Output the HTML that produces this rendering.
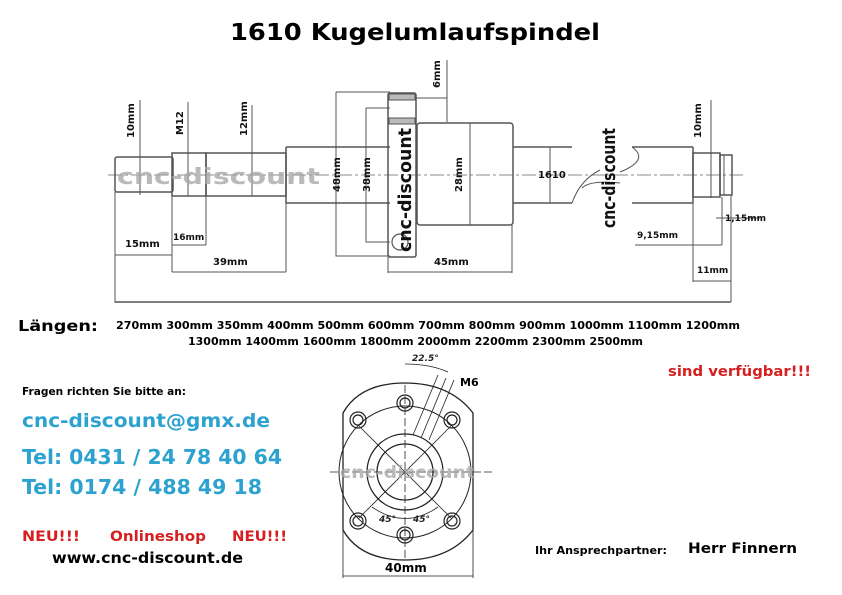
<!DOCTYPE html>
<html><head><meta charset="utf-8"><style>
html,body{margin:0;padding:0;background:#fff}
svg{display:block}
text{font-family:"DejaVu Sans","Liberation Sans",sans-serif;font-weight:bold}
</style></head><body>
<svg width="842" height="595" viewBox="0 0 842 595" xmlns="http://www.w3.org/2000/svg">
<rect width="842" height="595" fill="#fff"/>
<text x="230" y="40" font-size="23" textLength="370" lengthAdjust="spacingAndGlyphs" fill="#000">1610 Kugelumlaufspindel</text>
<g stroke="#555" fill="none" stroke-width="1">
<line x1="108" y1="175" x2="745" y2="175" stroke="#888" stroke-dasharray="14,3,3,3"/>
<rect x="115" y="157" width="58" height="35" rx="2" stroke-width="1.5"/>
<rect x="172" y="153" width="34" height="43" stroke-width="1.5"/>
<rect x="206" y="153" width="80" height="43" stroke-width="1.5"/>
<path d="M286 147 H390 M286 203 H390 M286 147 V203" stroke-width="1.5"/>
<rect x="388" y="93" width="28" height="164" rx="2" stroke-width="1.5"/>
<rect x="389" y="94" width="26" height="6" fill="#bbb"/>
<rect x="389" y="118" width="26" height="6" fill="#bbb"/>
<circle cx="400" cy="242" r="8" stroke-width="1.2"/>
<rect x="417" y="123" width="96" height="102" rx="3" stroke-width="1.5"/>
<path d="M513 147 H572 M513 203 H572 M632 147 H693 M632 203 H693 M693 147 V203" stroke-width="1.5"/>
<path d="M572 203 Q580 180 600 170 M632 147 Q650 160 620 172 M582 188 Q590 180 620 183" stroke-width="1"/>
<rect x="693" y="153" width="27" height="44" stroke-width="1.5"/>
<rect x="720" y="155" width="12" height="40" stroke-width="1.5"/>
<line x1="724" y1="155" x2="724" y2="195"/>
<line x1="140" y1="100" x2="140" y2="195"/>
<line x1="188" y1="102" x2="188" y2="196"/>
<line x1="252" y1="105" x2="252" y2="196"/>
<line x1="115" y1="192" x2="115" y2="303"/>
<line x1="172" y1="196" x2="172" y2="272"/>
<line x1="206" y1="196" x2="206" y2="245"/>
<line x1="286" y1="203" x2="286" y2="272"/>
<line x1="115" y1="255" x2="172" y2="255"/>
<line x1="172" y1="245" x2="206" y2="245"/>
<line x1="172" y1="272" x2="286" y2="272"/>
<line x1="115" y1="302" x2="731" y2="302" stroke-width="1.5"/>
<line x1="731" y1="195" x2="731" y2="302"/>
<path d="M336 92 H390 M336 92 V256 H390"/>
<path d="M366 108 H390 M366 108 V242 H390"/>
<line x1="447" y1="60" x2="447" y2="122"/>
<line x1="416" y1="98" x2="447" y2="98"/>
<line x1="470" y1="123" x2="470" y2="225"/>
<line x1="388" y1="257" x2="388" y2="273"/>
<line x1="512" y1="225" x2="512" y2="273"/>
<line x1="388" y1="272" x2="512" y2="272"/>
<line x1="550" y1="147" x2="550" y2="203"/>
<line x1="711" y1="100" x2="711" y2="198"/>
<line x1="693" y1="197" x2="693" y2="282"/>
<line x1="693" y1="281" x2="731" y2="281"/>
<line x1="635" y1="245" x2="722" y2="245"/>
<line x1="722" y1="197" x2="722" y2="245"/>
<line x1="716" y1="218" x2="760" y2="218"/>
</g>
<g font-size="10" fill="#111">
<text transform="translate(134,138) rotate(-90)">10mm</text>
<text transform="translate(183,135) rotate(-90)">M12</text>
<text transform="translate(247,136) rotate(-90)">12mm</text>
<text transform="translate(340,192) rotate(-90)">48mm</text>
<text transform="translate(370,192) rotate(-90)">38mm</text>
<text transform="translate(462,192) rotate(-90)">28mm</text>
<text transform="translate(440,88) rotate(-90)">6mm</text>
<text transform="translate(701,138) rotate(-90)">10mm</text>
<text x="125" y="247">15mm</text>
<text x="173" y="240" font-size="9">16mm</text>
<text x="213" y="265">39mm</text>
<text x="434" y="265">45mm</text>
<text x="538" y="178">1610</text>
<text x="637" y="238" font-size="9">9,15mm</text>
<text x="725" y="221" font-size="9">1,15mm</text>
<text x="697" y="273" font-size="9">11mm</text>
</g>
<text x="117" y="184" font-size="22" textLength="203" lengthAdjust="spacingAndGlyphs" fill="#aaa" opacity="0.8">cnc-discount</text>
<text transform="translate(411,252) rotate(-90)" font-size="18" textLength="124" lengthAdjust="spacingAndGlyphs" fill="#111" font-weight="normal">cnc-discount</text>
<text transform="translate(615,228) rotate(-90)" font-size="18" textLength="100" lengthAdjust="spacingAndGlyphs" fill="#111" font-weight="normal">cnc-discount</text>
<text x="18" y="331" font-size="15" textLength="80" lengthAdjust="spacingAndGlyphs">Längen:</text>
<text x="116" y="329" font-size="10.5" textLength="624" lengthAdjust="spacingAndGlyphs">270mm  300mm  350mm  400mm  500mm  600mm  700mm  800mm  900mm  1000mm  1100mm  1200mm</text>
<text x="188" y="345" font-size="10.5" textLength="455" lengthAdjust="spacingAndGlyphs">1300mm  1400mm  1600mm  1800mm  2000mm  2200mm  2300mm  2500mm</text>
<text x="22" y="395" font-size="10.5" textLength="164" lengthAdjust="spacingAndGlyphs">Fragen richten Sie bitte an:</text>
<text x="22" y="427" font-size="19" textLength="248" lengthAdjust="spacingAndGlyphs" fill="#2ba2cf">cnc-discount@gmx.de</text>
<text x="22" y="464" font-size="20" textLength="260" lengthAdjust="spacingAndGlyphs" fill="#2ba2cf">Tel: 0431 / 24 78 40 64</text>
<text x="22" y="494" font-size="20" textLength="240" lengthAdjust="spacingAndGlyphs" fill="#2ba2cf">Tel: 0174 / 488 49 18</text>
<text x="22" y="541" font-size="14" textLength="58" lengthAdjust="spacingAndGlyphs" fill="#d42020">NEU!!!</text>
<text x="110" y="541" font-size="14" textLength="96" lengthAdjust="spacingAndGlyphs" fill="#d42020">Onlineshop</text>
<text x="232" y="541" font-size="14" textLength="55" lengthAdjust="spacingAndGlyphs" fill="#d42020">NEU!!!</text>
<text x="52" y="563" font-size="15" textLength="191" lengthAdjust="spacingAndGlyphs">www.cnc-discount.de</text>
<text x="668" y="376" font-size="14" textLength="143" lengthAdjust="spacingAndGlyphs" fill="#d42020">sind verfügbar!!!</text>
<text x="535" y="554" font-size="11" textLength="132" lengthAdjust="spacingAndGlyphs">Ihr Ansprechpartner:</text>
<text x="688" y="553" font-size="14" textLength="109" lengthAdjust="spacingAndGlyphs">Herr Finnern</text>
<g stroke="#222" fill="none" stroke-width="1.3">
<path d="M343 413 Q360 383 405 383 Q450 383 473 413 V530 Q450 560 405 560 Q360 560 343 530 Z"/>
<circle cx="405" cy="472" r="66" stroke-width="1"/>
<circle cx="405" cy="472" r="38"/>
<circle cx="405" cy="472" r="28"/>
<line x1="330" y1="472" x2="495" y2="472" stroke-dasharray="8,3" stroke-width="0.8"/>
<line x1="405" y1="385" x2="405" y2="560" stroke-dasharray="8,3" stroke-width="0.8"/>
<line x1="358" y1="425" x2="452" y2="519" stroke-width="0.8"/>
<line x1="452" y1="425" x2="358" y2="519" stroke-width="0.8"/>
<g stroke-width="1.2">
<circle cx="405" cy="403" r="8"/><circle cx="405" cy="403" r="5"/>
<circle cx="405" cy="535" r="8"/><circle cx="405" cy="535" r="5"/>
<circle cx="358" cy="420" r="8"/><circle cx="358" cy="420" r="5"/>
<circle cx="452" cy="420" r="8"/><circle cx="452" cy="420" r="5"/>
<circle cx="358" cy="521" r="8"/><circle cx="358" cy="521" r="5"/>
<circle cx="452" cy="521" r="8"/><circle cx="452" cy="521" r="5"/>
</g>
<path d="M405 364 Q430 364 448 372" stroke-width="0.8"/>
<path d="M413 435 L438 375 M421 438 L446 378 M429 440 L454 380" stroke-width="0.8"/>
<path d="M372 507 Q405 530 438 507" stroke-width="0.8"/>
<line x1="343" y1="530" x2="343" y2="578" stroke-width="0.8"/>
<line x1="473" y1="530" x2="473" y2="578" stroke-width="0.8"/>
<line x1="343" y1="576" x2="473" y2="576" stroke-width="0.8"/>
</g>
<text x="412" y="361" font-size="9" font-weight="normal" font-style="italic" fill="#222">22.5°</text>
<text x="460" y="386" font-size="11">M6</text>
<text x="379" y="522" font-size="9" font-weight="normal" font-style="italic" fill="#222">45°</text>
<text x="413" y="522" font-size="9" font-weight="normal" font-style="italic" fill="#222">45°</text>
<text x="385" y="572" font-size="12">40mm</text>
<text x="340" y="478" font-size="17" textLength="135" lengthAdjust="spacingAndGlyphs" fill="#aaa" opacity="0.8">cnc-discount</text>
</svg>
</body></html>
